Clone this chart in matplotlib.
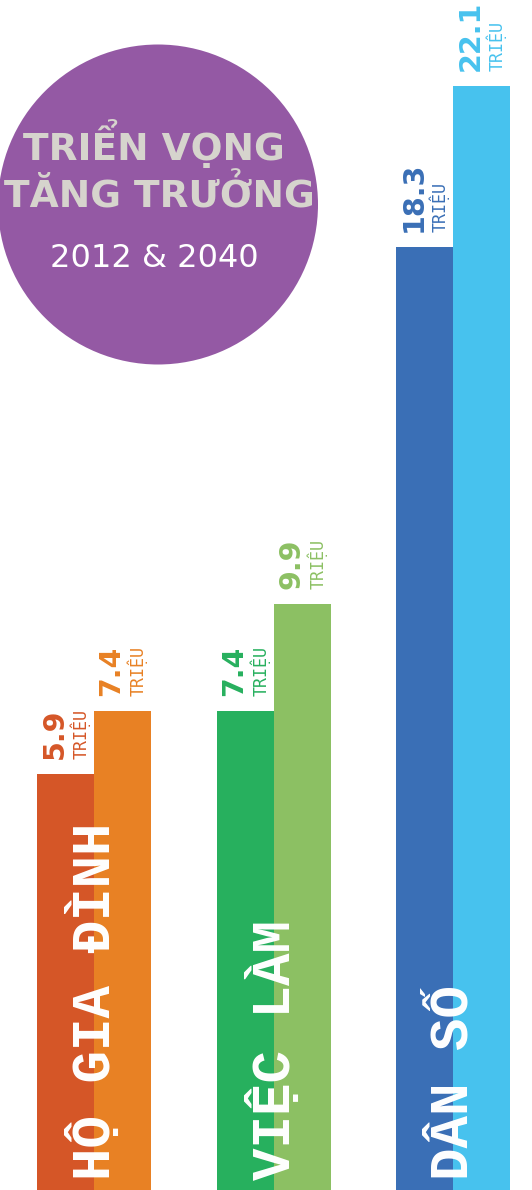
import matplotlib.pyplot as plt
from matplotlib.patches import Circle

groups = ["HỘ GIA ĐÌNH", "VIỆC LÀM", "DÂN SỐ"]
v2012 = [5.9, 7.4, 18.3]
v2040 = [7.4, 9.9, 22.1]
unit = "TRIỆU"
title1 = "TRIỂN VỌNG"
title2 = "TĂNG TRƯỞNG"
subtitle = "2012 & 2040"

col2012 = ["#D55627", "#27B05E", "#3A6FB6"]
col2040 = ["#E88124", "#8CC063", "#47C2EE"]

W, H = 532, 1190
fig = plt.figure(figsize=(W / 100, H / 100), dpi=100)
fig.patch.set_facecolor("white")
ax = fig.add_axes([0, 0, 1, 1])
ax.set_xlim(-0.5237, 2.440)
ymin, ymax = -3.882, 24.118
ax.set_ylim(ymin, ymax)
ax.axis("off")

w = 0.3175
for i, g in enumerate(groups):
    for dx, vals, cols in ((-w / 2, v2012, col2012), (w / 2, v2040, col2040)):
        v = vals[i]
        ax.bar(i + dx, v - ymin, bottom=ymin, width=w, color=cols[i], linewidth=0)
        ax.annotate(f"{v:.1f}", xy=(i + dx, v), xytext=(-11, 15), textcoords="offset pixels",
                    rotation=90, ha="center", va="bottom", fontsize=20.5,
                    fontweight="bold", family="DejaVu Sans", color=cols[i])
        ax.annotate(unit, xy=(i + dx, v), xytext=(15, 15), textcoords="offset pixels",
                    rotation=90, ha="center", va="bottom", fontsize=12,
                    family="DejaVu Sans Mono", color=cols[i])
    ax.annotate(g, xy=(i, ymin), xytext=(0, 10), textcoords="offset pixels",
                rotation=90, ha="center", va="bottom", fontsize=39,
                fontweight="bold", family=["Liberation Mono", "DejaVu Sans"],
                color="white")

# title badge
circ = Circle((1.58, (H - 204.5) / 100), 1.60, transform=fig.dpi_scale_trans,
              facecolor="#9459A4", edgecolor="none", zorder=5)
fig.add_artist(circ)
fig.text(154 / W, 1 - 160 / H, title1, ha="center", va="baseline", fontsize=27,
         fontweight="bold", color="#D6D4CD", zorder=6)
fig.text(159 / W, 1 - 208 / H, title2, ha="center", va="baseline", fontsize=27,
         fontweight="bold", color="#D6D4CD", zorder=6)
fig.text(154 / W, 1 - 267 / H, subtitle, ha="center", va="baseline", fontsize=23,
         color="white", zorder=6)

fig.savefig("out.png", dpi=100)
